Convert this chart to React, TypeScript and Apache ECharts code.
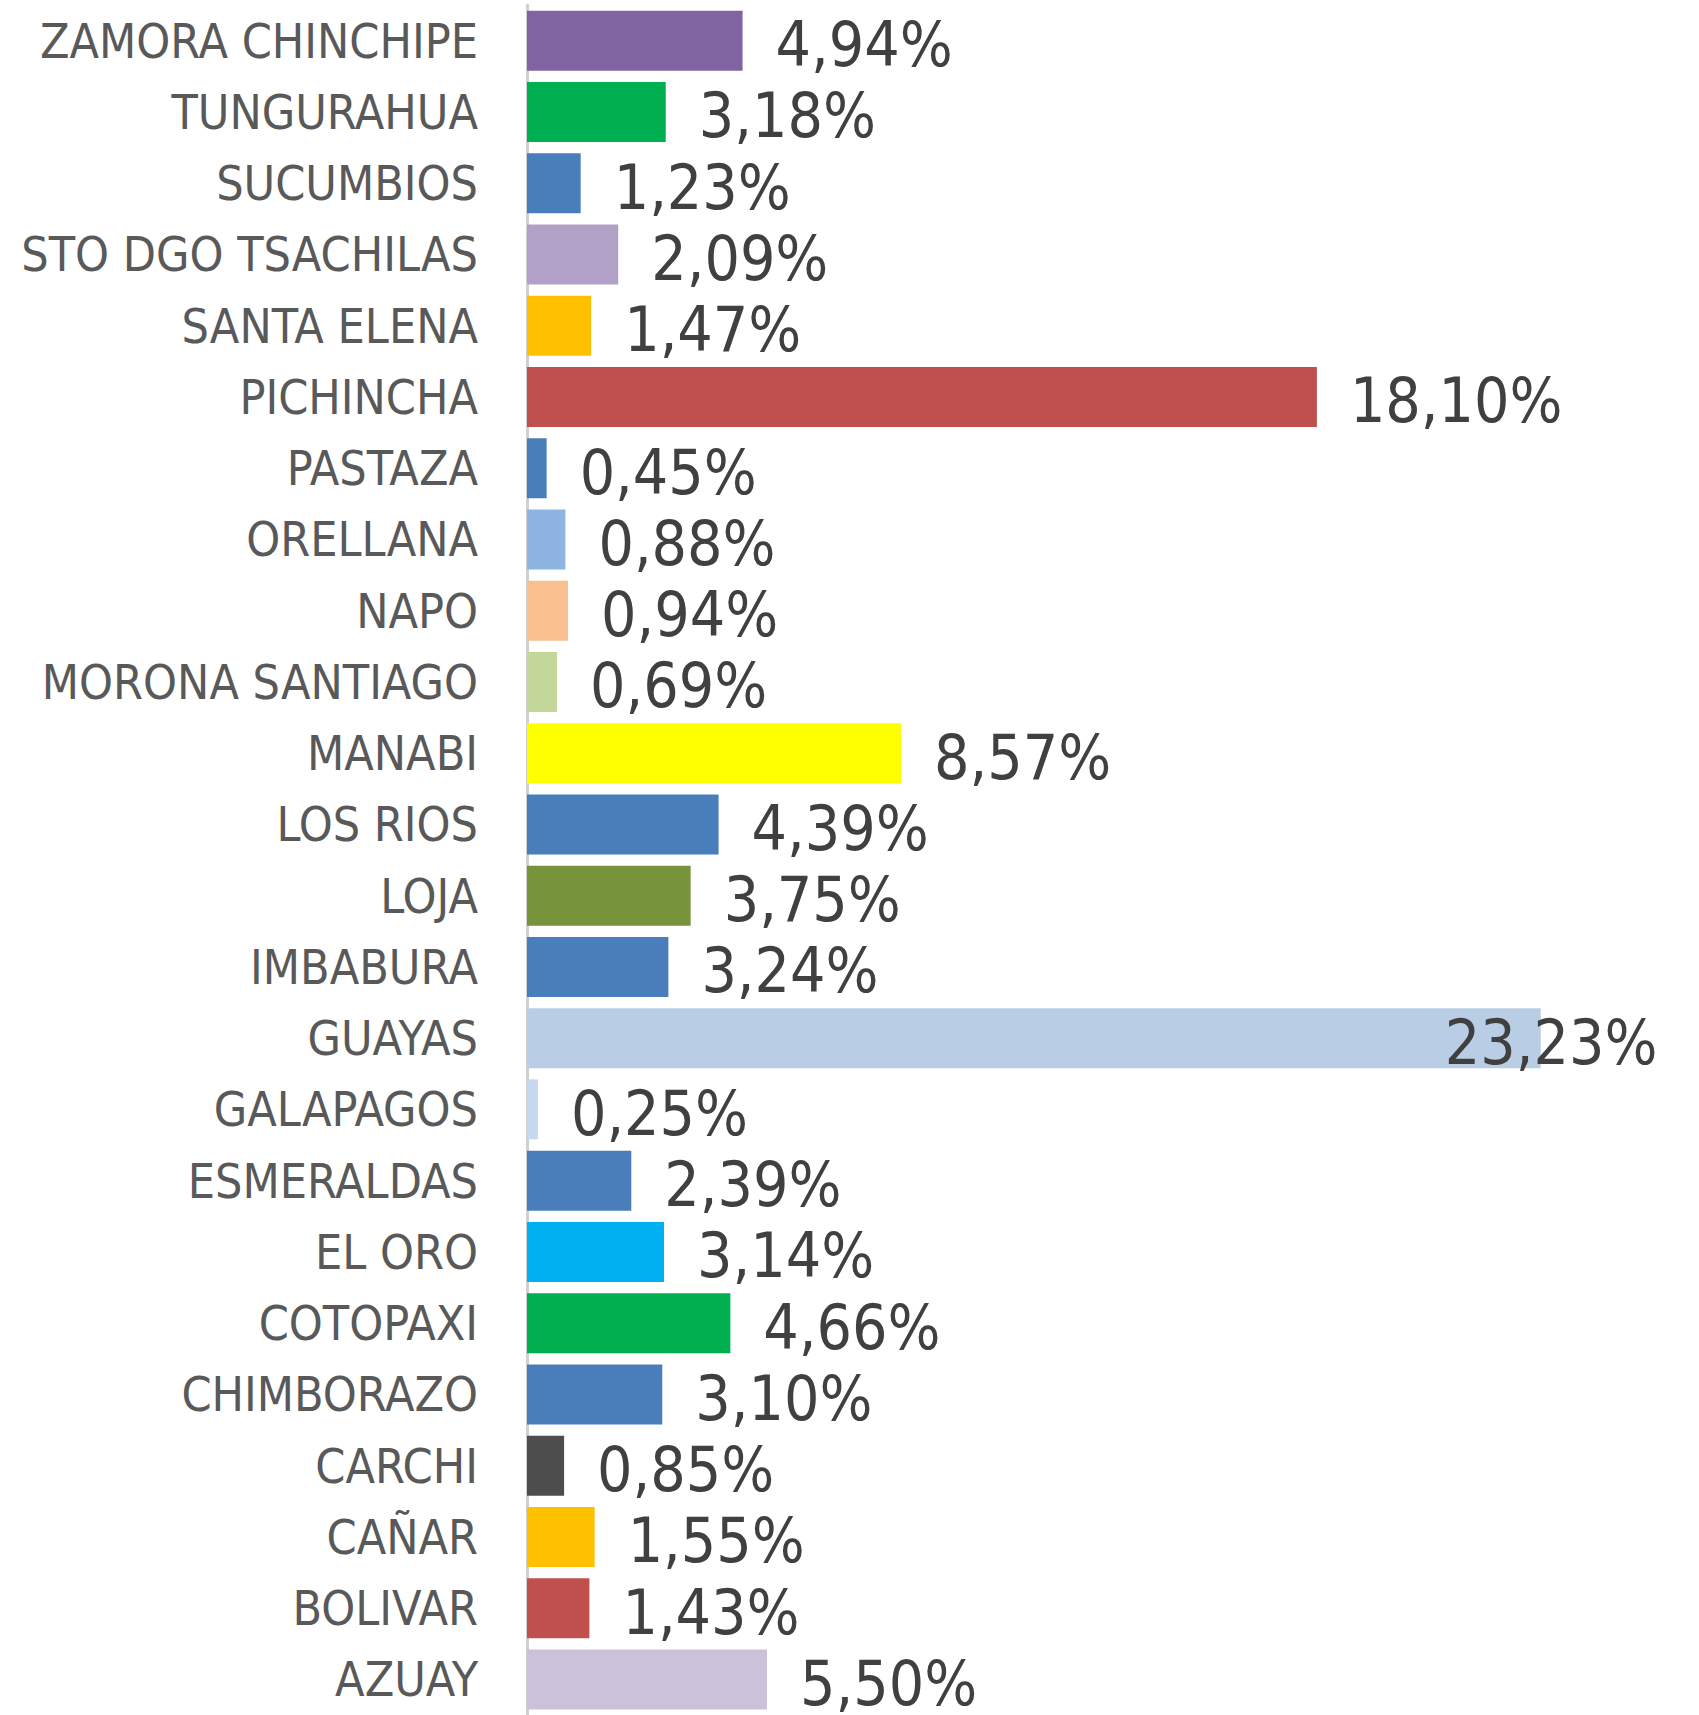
import React, { useEffect, useRef } from "react";
import * as echarts from "echarts";

const categories = [
  "ZAMORA CHINCHIPE", "TUNGURAHUA", "SUCUMBIOS", "STO DGO TSACHILAS", "SANTA ELENA",
  "PICHINCHA", "PASTAZA", "ORELLANA", "NAPO", "MORONA SANTIAGO", "MANABI", "LOS RIOS",
  "LOJA", "IMBABURA", "GUAYAS", "GALAPAGOS", "ESMERALDAS", "EL ORO", "COTOPAXI",
  "CHIMBORAZO", "CARCHI", "CAÑAR", "BOLIVAR", "AZUAY",
];

const values = [
  4.94, 3.18, 1.23, 2.09, 1.47, 18.1, 0.45, 0.88, 0.94, 0.69, 8.57, 4.39,
  3.75, 3.24, 23.23, 0.25, 2.39, 3.14, 4.66, 3.1, 0.85, 1.55, 1.43, 5.5,
];

const colors = [
  "#8064A2", "#00B050", "#4A7EBB", "#B2A1C7", "#FFC000", "#C0504D", "#4A7EBB",
  "#8DB4E2", "#FABF8F", "#C4D79B", "#FFFF00", "#4A7EBB", "#77933C", "#4A7EBB",
  "#B9CDE5", "#C6D9F1", "#4A7EBB", "#00B0F0", "#00B050", "#4A7EBB", "#4D4D4D",
  "#FFC000", "#C0504D", "#CCC1DA",
];

const FONT = '"Liberation Sans Narrow", "DejaVu Sans Condensed", "Liberation Sans", sans-serif';

export default function App() {
  const ref = useRef<HTMLDivElement>(null);
  useEffect(() => {
    document.body.style.margin = "0";
    const chart = echarts.init(ref.current!, null, { renderer: "svg" });
    const fmt = (v: number) => v.toFixed(2).replace(".", ",") + "%";
    chart.setOption({
      animation: false,
      grid: { left: 527, top: 5, width: 1091, height: 1716, containLabel: false },
      xAxis: {
        type: "value",
        min: 0,
        max: 25,
        show: false,
      },
      yAxis: {
        type: "category",
        inverse: true,
        data: categories,
        axisLine: { show: true, lineStyle: { color: "#D0D0D0", width: 3 } },
        axisTick: { show: false },
        axisLabel: {
          color: "#595959",
          fontFamily: FONT,
          fontSize: 48,
          margin: 49,
        },
      },
      series: [
        {
          type: "bar",
          barWidth: 60,
          data: values.map((v, i) => ({
            value: v,
            itemStyle: { color: colors[i] },
            label:
              categories[i] === "GUAYAS"
                ? { offset: [-129, 4] }
                : undefined,
          })),
          label: {
            show: true,
            position: "right",
            distance: 33,
            color: "#404040",
            fontFamily: FONT,
            fontSize: 62,
            offset: [0, 4],
            formatter: (p: any) => fmt(p.value),
          },
        },
      ],
    });
    return () => chart.dispose();
  }, []);
  return <div ref={ref} style={{ width: 1699, height: 1715 }} />;
}
